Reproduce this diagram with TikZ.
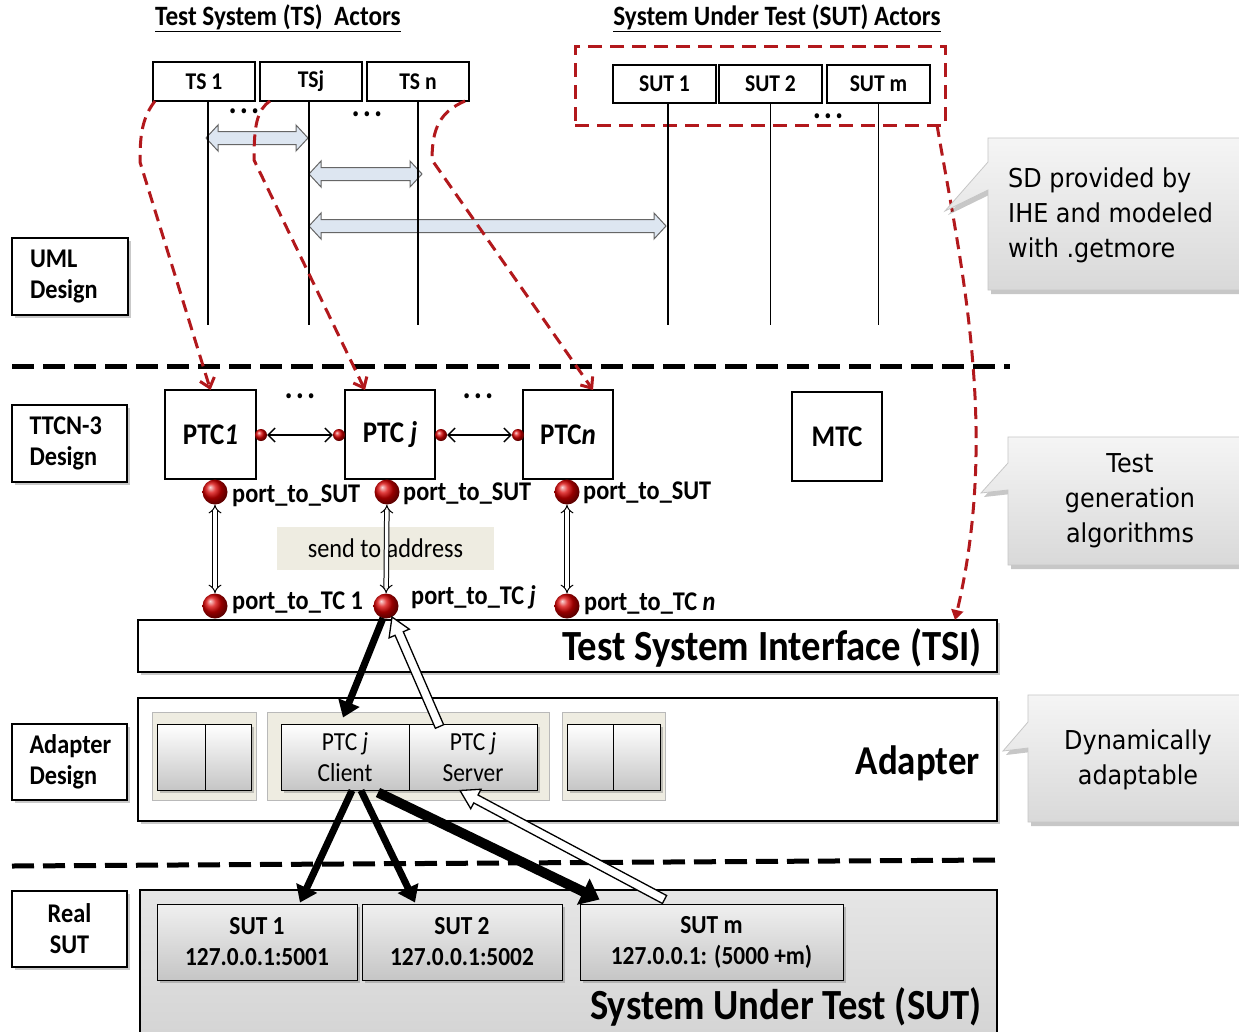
\documentclass[tikz,border=0pt]{standalone}
\usepackage{fontspec}
\setmainfont{Carlito}[FakeStretch=0.9]
\newfontfamily\callfont[FakeStretch=0.92]{DejaVu Sans}
\usetikzlibrary{arrows.meta,shadows,calc}
\definecolor{dred}{RGB}{178,24,28}
\definecolor{beige}{RGB}{238,236,225}
\definecolor{arrfill}{RGB}{221,230,241}
\newcommand\fsz[2]{\fontsize{#1}{#2}\selectfont}
% box node from its corners: options, name, x1, y1, x2, y2, text
\newcommand\boxnode[7]{\node[#1, minimum width={(#5)-(#3)}, minimum height={(#6)-(#4)}] (#2) at ({((#3)+(#5))/2},{((#4)+(#6))/2}) {#7};}
\newcommand\dblarr[3]{%
  \filldraw[blockarr] (#1,#3) -- ({#1+12},{#3-13}) -- ({#1+12},{#3-6.5}) -- ({#2-12},{#3-6.5}) -- ({#2-12},{#3-13}) -- (#2,#3) -- ({#2-12},{#3+13}) -- ({#2-12},{#3+6.5}) -- ({#1+12},{#3+6.5}) -- ({#1+12},{#3+13}) -- cycle;}
\newcommand\hollowarr[3]{%
  \path (#2) coordinate (ha) (#3) coordinate (hb);
  \path ($(hb)!18pt!(ha)$) coordinate (hc);
  \filldraw[fill=white,draw=black,line width=1.3pt]
    ($(ha)!#1!90:(hb)$) -- ($(hc)!#1!90:(hb)$) -- ($(hc)!11pt!90:(hb)$) -- (hb)
    -- ($(hc)!11pt!-90:(hb)$) -- ($(hc)!#1!-90:(hb)$) -- ($(ha)!#1!-90:(hb)$) -- cycle;}
\newcommand\callshape[1]{\fill[black, opacity=0.22, shift={(3,4)}] #1; \path[callout] #1;}
\newcommand\threedots{.\hspace{3pt}.\hspace{3pt}.}
\tikzset{
  bx/.style={draw, line width=1.2pt, fill=white, inner sep=0pt, outer sep=0pt},
  shad/.style={drop shadow={shadow xshift=3pt, shadow yshift=-3pt, opacity=0.35, fill=black!60}},
  actor/.style={bx, font=\fsz{24}{28}\bfseries},
  ptc/.style={bx, font=\fsz{30}{34}\bfseries},
  side/.style={bx, shad, font=\fsz{27}{31}\bfseries, align=left, text width=80pt},
  life/.style={line width=1.3pt},
  blockarr/.style={draw=gray!80!black, fill=arrfill, line width=1pt},
  reddash/.style={draw=dred, line width=3pt, dash pattern=on 12pt off 7pt},
  redtip/.style={-{Straight Barb[length=9pt,width=15pt]}},
  sepline/.style={line width=5pt, dash pattern=on 22pt off 9pt},
  bigball/.style={circle, minimum size=25pt, inner sep=0pt, shading=ball, ball color=red!85!black},
  smallball/.style={circle, minimum size=12pt, inner sep=0pt, shading=ball, ball color=red!85!black},
  portlbl/.style={anchor=west, inner sep=0pt, font=\fsz{27}{30}\bfseries},
  beigebox/.style={draw=gray!55, fill=beige, inner sep=0pt},
  inbox/.style={draw, line width=1pt, top color=white, bottom color=gray!45, inner sep=0pt, shad, font=\fsz{26}{31}, align=center},
  sutbox/.style={draw, line width=1pt, top color=gray!12, bottom color=gray!45, inner sep=0pt, shad, font=\fsz{26}{31}\bfseries, align=center},
  blk/.style={line width=7pt, -{Triangle[length=16pt,width=22pt]}},
  blkw/.style={line width=10pt, -{Triangle[length=18pt,width=28pt]}},
  dbl/.style={double, double distance=3.5pt, line width=1pt, {Implies}-{Implies}},
  thinarr/.style={line width=1.3pt, {Straight Barb[length=7pt,width=14pt]}-{Straight Barb[length=7pt,width=14pt]}},
  callout/.style={draw=gray!45, line width=0.8pt, top color=gray!8, bottom color=gray!30},
  calltext/.style={font=\callfont\fsz{26}{35}, inner sep=0pt},
  dots/.style={font=\fsz{34}{34}\bfseries, inner sep=0pt},
  bigtxt/.style={anchor=east, inner sep=0pt, font=\fsz{43}{46}\bfseries},
}
\begin{document}
\begin{tikzpicture}[x=1pt,y=-1pt]
\useasboundingbox (0,0) rectangle (1239,1031);
\fill[white] (0,0) rectangle (1239,1031);

% ---------- titles
\node[font=\fsz{28}{30}\bfseries] (ttl1) at (278,18) {\underline{Test System (TS)\ \ Actors}};
\node[font=\fsz{28}{30}\bfseries] (ttl2) at (777,18) {\underline{System Under Test (SUT) Actors}};

% ---------- block arrows (messages)
\dblarr{206}{308}{138}
\dblarr{309}{422}{174}
\dblarr{309}{666}{226}

% ---------- actors
\boxnode{actor}{ts1}{153}{62}{255}{101}{TS 1}
\boxnode{actor, line width=2.4pt}{tsj}{260}{62}{362}{101}{TSj}
\boxnode{actor}{tsn}{367}{62}{469}{101}{TS n}
\boxnode{actor}{sut1}{613}{65}{716}{103}{SUT 1}
\boxnode{actor}{sut2}{719}{65}{822}{103}{SUT 2}
\boxnode{actor}{sutm}{827}{65}{930}{103}{SUT m}
\boxnode{draw=dred, line width=3pt, dash pattern=on 14pt off 8pt, inner sep=0pt, outer sep=0pt}{sutgrp}{575}{46}{945}{125}{}

\draw[life] ([xshift=4pt]ts1.south) -- ++(0,224);
\draw[life, line width=2.4pt] ([xshift=-2pt]tsj.south) -- ++(0,224);
\draw[life] (tsn.south) -- ++(0,224);
\draw[life] ([xshift=3.5pt]sut1.south) -- ++(0,222);
\draw[life] (sut2.south) -- ++(0,222);
\draw[life] (sutm.south) -- ++(0,222);

\node[dots] (d1) at (244,111) {\threedots};
\node[dots] (d2) at (367,114) {\threedots};
\node[dots] (d3) at (828,116) {\threedots};

% ---------- separators
\draw[sepline] (12,366) -- (1010,366);
\draw[sepline] (12,866) -- (997,860);

% ---------- left labels
\boxnode{side}{uml}{12}{238}{128}{315}{UML\\Design}
\boxnode{side}{ttcn}{12}{405}{127}{482}{TTCN-3\\Design}
\boxnode{side}{adl}{12}{724}{127}{800}{Adapter\\Design}
\boxnode{side, align=center}{rsl}{12}{891}{127}{967}{Real\\SUT}

% ---------- PTCs
\boxnode{ptc}{ptc1}{165}{390}{256}{479}{PTC\textit{1}}
\boxnode{ptc, line width=2.4pt}{ptcj}{345}{390}{435}{479}{PTC \textit{j}}
\boxnode{ptc}{ptcn}{523}{390}{613}{479}{PTC\textit{n}}
\boxnode{ptc}{mtc}{792}{392}{882}{481}{MTC}
\node[dots] (d4) at (300,396) {\threedots};
\node[dots] (d5) at (478,396) {\threedots};

\node[smallball] (b1r) at (261,435) {};
\node[smallball] (bjl) at (339,435) {};
\node[smallball] (bjr) at (441,435) {};
\node[smallball] (bnl) at (518,435) {};
\draw[thinarr] (b1r) -- (bjl);
\draw[thinarr] (bjr) -- (bnl);

% ---------- send to address
\boxnode{fill=beige, inner sep=0pt, font=\fsz{27}{30}}{send}{277}{527}{494}{570}{send to address}

% ---------- ports
\node[bigball] (p1s) at (215,492) {};
\node[bigball] (pjs) at (387,492) {};
\node[bigball] (pns) at (567,492) {};
\node[bigball] (p1t) at (215,606) {};
\node[bigball] (pjt) at (386,606) {};
\node[bigball] (pnt) at (567,606) {};
\draw[dbl] (p1s) -- (p1t);
\draw[dbl] (pjs) -- (pjt);
\draw[dbl] (pns) -- (pnt);
\node[portlbl] (l1s) at (232,496) {port\_to\_SUT};
\node[portlbl] (ljs) at (403,494) {port\_to\_SUT};
\node[portlbl] (lns) at (583,493) {port\_to\_SUT};
\node[portlbl] (l1t) at (232,603) {port\_to\_TC 1};
\node[portlbl] (ljt) at (411,597) {port\_to\_TC \textit{j}};
\node[portlbl] (lnt) at (584,604) {port\_to\_TC \textit{n}};

% ---------- TSI and adapter
\boxnode{bx, shad}{tsi}{138}{620}{997}{672}{}
\node[bigtxt] (tsil) at (982,648) {Test System Interface (TSI)};
\boxnode{bx, shad}{adp}{138}{698}{997}{821}{}
\node[bigtxt, font=\fsz{41}{44}\bfseries] (adpl) at (980,763) {Adapter};

\boxnode{beigebox}{bg1}{152}{712}{256}{800}{}
\boxnode{beigebox}{bg2}{267}{712}{549}{800}{}
\boxnode{beigebox}{bg3}{562}{712}{665}{800}{}
\boxnode{inbox}{i1a}{157}{724}{205}{790}{}
\boxnode{inbox}{i1b}{205}{724}{251}{790}{}
\boxnode{inbox}{client}{281}{724}{409}{790}{PTC \textit{j}\\Client}
\boxnode{inbox}{server}{409}{724}{537}{790}{PTC \textit{j}\\Server}
\boxnode{inbox}{i3a}{567}{724}{613}{790}{}
\boxnode{inbox}{i3b}{613}{724}{660}{790}{}

% ---------- SUT area
\boxnode{draw, line width=1.2pt, top color=gray!20, bottom color=gray!34, inner sep=0pt}{sutarea}{140}{890}{997}{1045}{}
\node[bigtxt] (sutl) at (982,1007) {System Under Test (SUT)};
\boxnode{sutbox}{sut1b}{157}{904}{357}{980}{SUT 1\\127.0.0.1:5001}
\boxnode{sutbox}{sut2b}{362}{904}{562}{980}{SUT 2\\127.0.0.1:5002}
\boxnode{sutbox}{sutmb}{580}{904}{843}{980}{SUT m\\127.0.0.1: (5000 +m)}

% ---------- thick arrows
\draw[blk] ([xshift=-3pt,yshift=-12pt]pjt.center) -- ([xshift=-2pt,yshift=6pt]client.north);
\hollowarr{4.5pt}{[xshift=31pt,yshift=-3pt]server.north west}{[xshift=6pt,yshift=-11pt]pjt.center}
\draw[blk] ([xshift=7pt]client.south) -- ([xshift=43pt,yshift=1pt]sut1b.north);
\draw[blk] ([xshift=16pt]client.south) -- ([xshift=-47pt,yshift=1pt]sut2b.north);
\draw[blkw] ([xshift=33pt,yshift=-2pt]client.south) -- ([xshift=20pt,yshift=4pt]sutmb.north west);
\hollowarr{4.5pt}{[xshift=85pt,yshift=4pt]sutmb.north west}{[xshift=-13pt]server.south}

% ---------- red dashed mappings
\draw[reddash, redtip] ([xshift=2pt]ts1.south west) .. controls (142,118) and (140,135) .. (140,162) -- (ptc1.north);
\draw[reddash, redtip] ([xshift=10pt]tsj.south west) .. controls (257,110) and (254,125) .. (254,160) -- ([xshift=-25pt]ptcj.north);
\draw[reddash, redtip] ([xshift=-4pt]tsn.south east) .. controls (440,112) and (432,128) .. (432,160) -- ([xshift=25pt]ptcn.north);
\draw[reddash, -{Triangle[length=10pt,width=12pt]}] ([xshift=-8pt]sutgrp.south east) .. controls (960,260) and (1000,430) .. ([xshift=-42pt]tsi.north east);

% ---------- callouts
\callshape{(988,138) -- (1250,138) -- (1250,290) -- (988,290) -- (988,190) -- (945,211) -- (988,162) -- cycle}
\callshape{(1008,437) -- (1250,437) -- (1250,565) -- (1008,565) -- (1008,490) -- (981,493) -- (1008,463) -- cycle}
\callshape{(1028,695) -- (1250,695) -- (1250,822) -- (1028,822) -- (1028,748) -- (1003,751) -- (1028,722) -- cycle}
\node[calltext, anchor=west, align=left] (c1t) at (1008,215) {SD provided by\\IHE and modeled\\with .getmore};
\node[calltext, align=center] (c2t) at (1130,501) {Test\\generation\\algorithms};
\node[calltext, align=center] (c3t) at (1138,760) {Dynamically\\adaptable};
\end{tikzpicture}
\end{document}
